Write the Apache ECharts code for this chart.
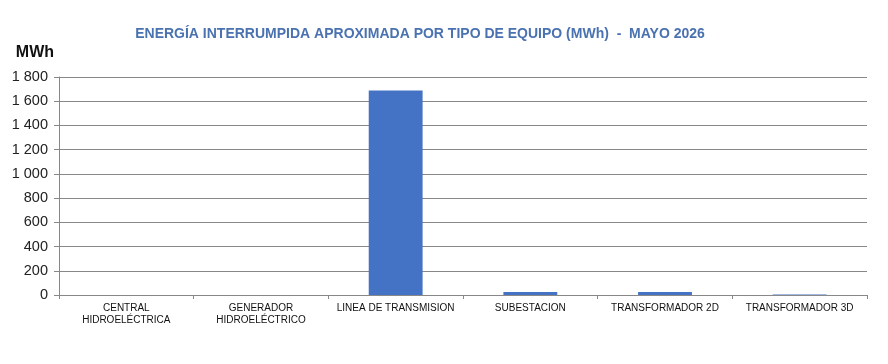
<!DOCTYPE html>
<html>
<head>
<meta charset="utf-8">
<script src="https://cdn.jsdelivr.net/npm/echarts@6/dist/echarts.min.js"></script>
<style>
html, body { margin: 0; padding: 0; background: #fff; }
#chart { width: 888px; height: 364px; }
</style>
</head>
<body>
<div id="chart"></div>
<script>
// datos del grafico
var categorias = ['CENTRAL\nHIDROELÉCTRICA', 'GENERADOR\nHIDROELÉCTRICO', 'LINEA DE TRANSMISION',
    'SUBESTACION', 'TRANSFORMADOR 2D', 'TRANSFORMADOR 3D'];
var energia = [0, 0, 1688, 25, 24, 4];
var titulo = 'ENERGÍA INTERRUMPIDA APROXIMADA POR TIPO DE EQUIPO (MWh)  -  MAYO 2026';
var unidad = 'MWh';

function fmtMiles(v) {
    return String(v).replace(/\B(?=(\d{3})+(?!\d))/g, ' ');
}

var chart = echarts.init(document.getElementById('chart'));
var option = {
    backgroundColor: '#fff',
    animation: false,
    title: {
        text: titulo,
        left: 415,
        textAlign: 'center',
        top: 22,
        textStyle: {
            color: '#4a72b0',
            fontSize: 14,
            fontWeight: 'bold',
            fontFamily: 'Liberation Sans, Arial, sans-serif'
        }
    },
    grid: {
        left: 59,
        right: 21,
        top: 77,
        bottom: 69,
        containLabel: false
    },
    xAxis: {
        type: 'category',
        data: categorias,
        axisLine: { lineStyle: { color: '#888', width: 1 } },
        axisTick: { show: true, length: 4, lineStyle: { color: '#888' } },
        axisLabel: {
            color: '#111',
            fontSize: 10,
            fontFamily: 'Liberation Sans, Arial, sans-serif',
            interval: 0,
            margin: 7,
            lineHeight: 12
        }
    },
    yAxis: {
        type: 'value',
        name: unidad,
        nameLocation: 'end',
        nameGap: 16,
        nameTextStyle: {
            color: '#111',
            fontSize: 16,
            fontWeight: 'bold',
            fontFamily: 'Liberation Sans, Arial, sans-serif',
            align: 'right',
            padding: [0, 5, 0, 0]
        },
        min: 0,
        max: 1800,
        interval: 200,
        axisLine: { show: true, lineStyle: { color: '#888', width: 1 } },
        axisTick: { show: true, length: 5, lineStyle: { color: '#888' } },
        splitLine: { lineStyle: { color: '#888', width: 1 } },
        axisLabel: {
            color: '#222',
            fontSize: 14.5,
            fontFamily: 'Liberation Sans, Arial, sans-serif',
            margin: 11,
            formatter: fmtMiles
        }
    },
    series: [{
        type: 'bar',
        data: energia,
        barWidth: '40%',
        itemStyle: { color: '#4472c4' }
    }]
};
chart.setOption(option);
</script>
</body>
</html>
